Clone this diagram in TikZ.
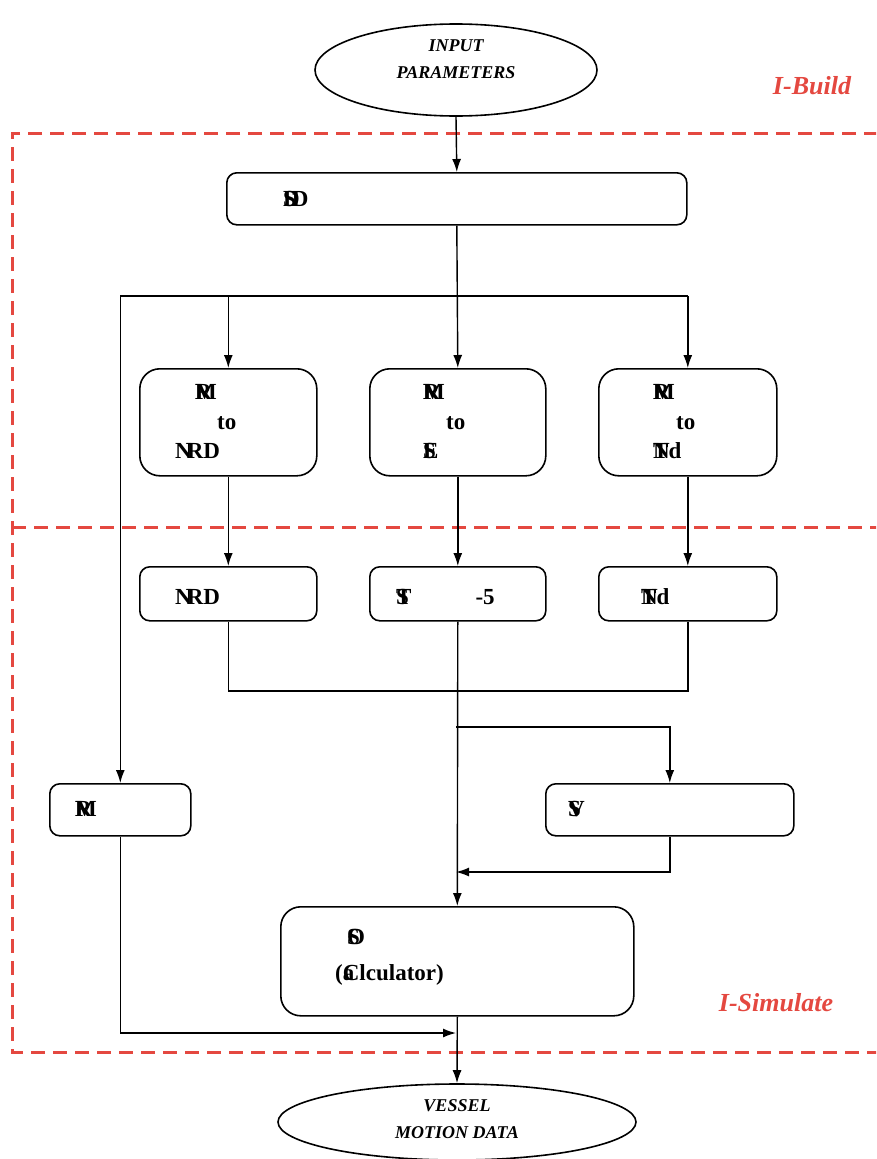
\documentclass[tikz,border=0pt]{standalone}
\usepackage{fontspec}
\setmainfont{Liberation Serif}
\usetikzlibrary{shapes.geometric,arrows.meta}
\newcommand{\ovl}[2]{\rlap{#1}#2}
\definecolor{zred}{RGB}{228,72,64}
\begin{document}
\begin{tikzpicture}[x=1pt,y=-1pt,
  box/.style={draw,line width=1.6pt,rounded corners=10pt,inner sep=0pt,anchor=north west},
  bigbox/.style={box,rounded corners=20pt},
  oval/.style={draw,ellipse,line width=1.6pt,inner sep=0pt},
  arr/.style={line width=1.4pt,-{Latex[length=13pt,width=9pt]}},
  ln/.style={line width=1.4pt},
  bt/.style={font=\bfseries\fontsize{23}{27}\selectfont,inner sep=0pt,anchor=west},
  ot/.style={font=\bfseries\itshape\fontsize{18}{27}\selectfont,align=center,inner sep=0pt},
  zlabel/.style={font=\bfseries\itshape\fontsize{26}{30}\selectfont,text=zred,inner sep=0pt},
  zone/.style={draw=zred,line width=3pt,dash pattern=on 14pt off 8pt}
]
\useasboundingbox (0,0) rectangle (876,1159);
\clip (0,0) rectangle (876,1159);
% zones
\draw[zone] (900,133) -- (12,133) -- (12,1052) -- (900,1052);
\draw[zone] (12,527) -- (900,527);
\node[zlabel] (lb) at (812,86) {I-Build};
\node[zlabel] (ls) at (776,1003) {I-Simulate};
% terminals
\node[oval,minimum width=282,minimum height=92] (in) at (456,70) {};
\node[ot] (intext) at (456,59) {INPUT\\PARAMETERS};
\node[oval,minimum width=358,minimum height=76] (out) at (457,1122) {};
\node[ot] (outtext) at (457,1119) {VESSEL\\MOTION DATA};
% boxes
\node[box,minimum width=460,minimum height=52] (sd) at (226,172) {};
\node[bigbox,minimum width=177,minimum height=107] (b1) at (139,368) {};
\node[bigbox,minimum width=176,minimum height=107] (b2) at (369,368) {};
\node[bigbox,minimum width=178,minimum height=107] (b3) at (598,368) {};
\node[box,minimum width=177,minimum height=54] (c1) at (139,566) {};
\node[box,minimum width=176,minimum height=54] (c2) at (369,566) {};
\node[box,minimum width=178,minimum height=54] (c3) at (598,566) {};
\node[box,minimum width=141,minimum height=52] (rm) at (49,783) {};
\node[box,minimum width=248,minimum height=52] (sv) at (545,783) {};
\node[bigbox,minimum width=353,minimum height=109] (so) at (280,906) {};
% texts
\node[bt] (t0) at (283,199) {\ovl{S}{D}\kern-8pt D};
\node[bt] (t1a) at (195,392) {\ovl{R}{M}};
\node[bt] (t1b) at (217,423) {to};
\node[bt] (t1c) at (175,451) {N\kern-5pt RD};
\node[bt] (t2a) at (423,392) {\ovl{R}{M}};
\node[bt] (t2b) at (446,423) {to};
\node[bt] (t2c) at (423,451) {\ovl{E}{S}};
\node[bt] (t3a) at (653,392) {\ovl{R}{M}};
\node[bt] (t3b) at (676,423) {to};
\node[bt] (t3c) at (653,451) {\ovl{N}{T}d};
\node[bt] (t4) at (175,597) {N\kern-5pt RD};
\node[bt] (t5) at (396,597) {\ovl{S}{T}\hspace{64pt}-5};
\node[bt] (t6) at (641,597) {\ovl{N}{T}d};
\node[bt] (t7) at (75,809) {\ovl{R}{M}};
\node[bt] (t8) at (568,809) {\ovl{S}{V}};
\node[bt] (t9) at (347,937) {\ovl{S}{O}};
\node[bt] (t10) at (335,975) {(\ovl{a}{C}lculator)};
% connectors
\coordinate (bus) at (456,296);
\coordinate (join) at (456,691);
\coordinate (split) at (456,727);
\coordinate (merge) at (456,872);
\coordinate (merge2) at (456,1033);
\draw[arr] (in.south) -- (sd.north);
\draw[arr] (sd.south) -- (b2.north);
\draw[ln] (rm.north |- bus) -- (b3.north |- bus);
\draw[arr] (b1.north |- bus) -- (b1.north);
\draw[arr] (b3.north |- bus) -- (b3.north);
\draw[arr] (rm.north |- bus) -- (rm.north);
\draw[arr] (b1.south) -- (c1.north);
\draw[arr] (b2.south) -- (c2.north);
\draw[arr] (b3.south) -- (c3.north);
\draw[ln] (c1.south) |- (join) -| (c3.south);
\draw[arr] (c2.south) -- (so.north);
\draw[arr] (split) -| (sv.north);
\draw[arr] (sv.south) |- (merge);
\draw[arr] (rm.south) |- (merge2);
\draw[arr] (so.south) -- (out.north);
\end{tikzpicture}
\end{document}
